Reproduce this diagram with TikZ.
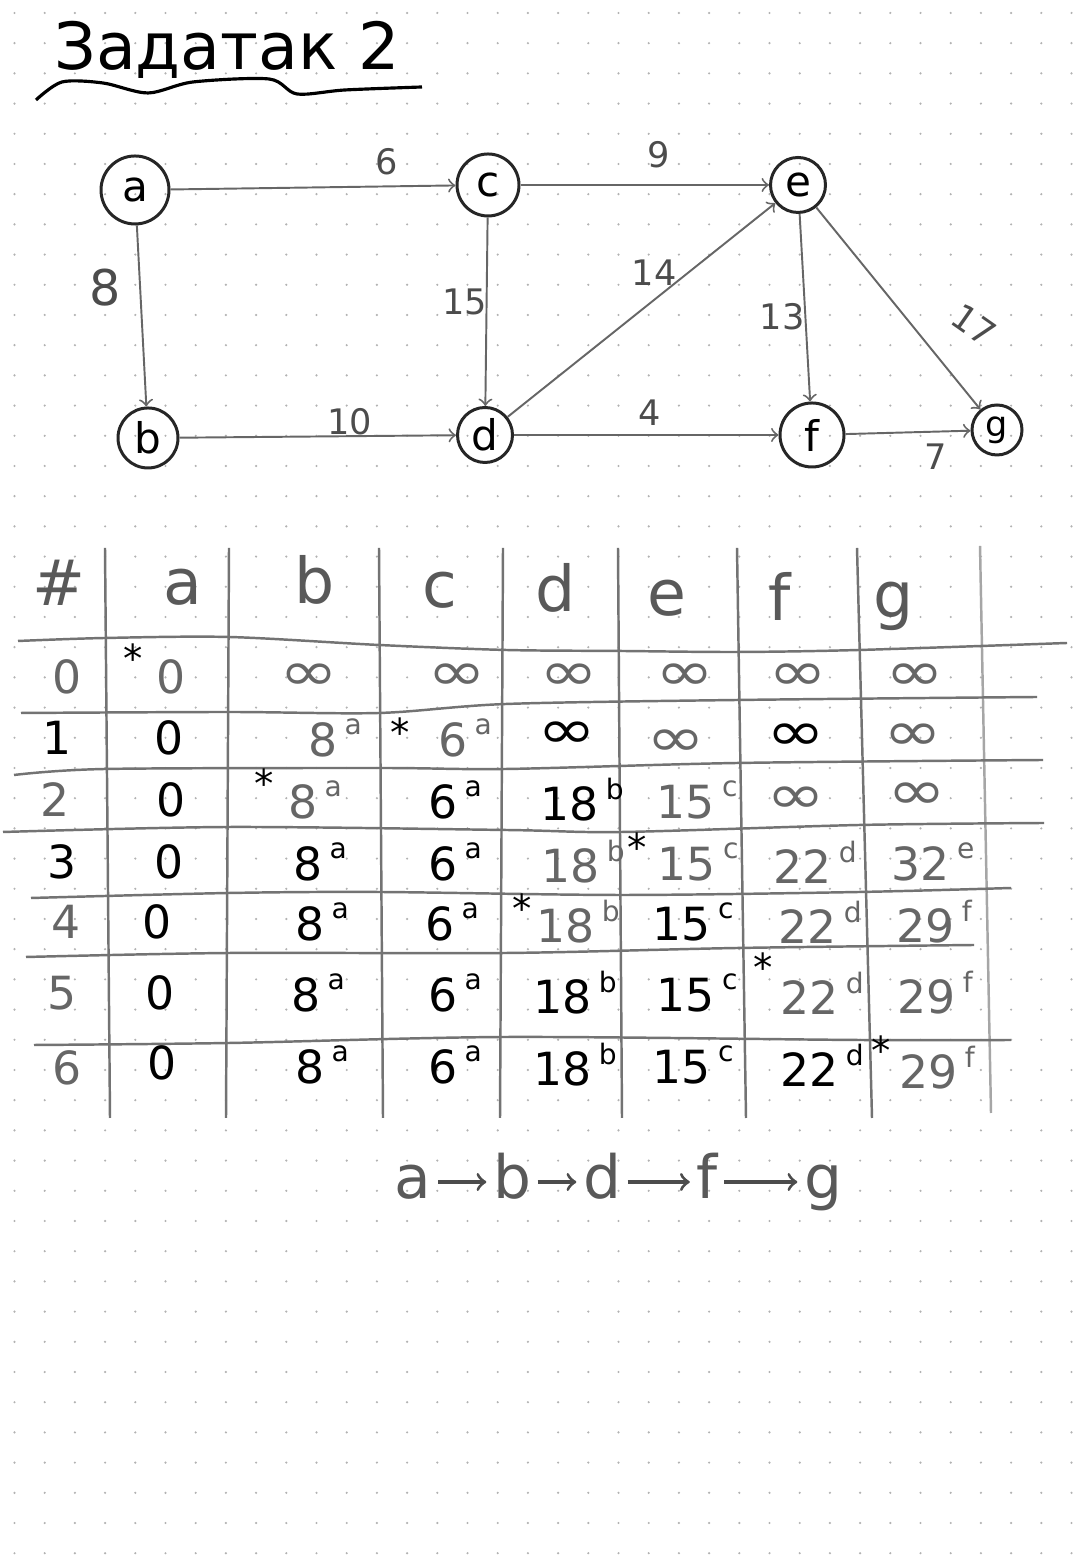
\documentclass[tikz,border=0pt]{standalone}
\usepackage{fontspec}
\setmainfont{DejaVu Sans}
\usetikzlibrary{calc}
\def\via#1#2{#1\,\raisebox{0.85ex}{\fontsize{8}{8}\selectfont #2}}
\def\inft{\scalebox{1.55}[1.2]{∞}}
\tikzset{
	vtx/.style={draw=black!85, line width=0.85pt, circle, inner sep=0pt, font=\fontsize{12}{14}\selectfont},
	link/.style={->, draw=black!60, line width=0.55pt},
	wt/.style={text=black!70, font=\fontsize{10}{12}\selectfont},
	rule/.style={draw=black!55, line width=0.7pt},
	head/.style={text=black!65, font=\fontsize{18}{20}\selectfont},
	pen/.style={text=black, font=\fontsize{13}{15}\selectfont},
	pencil/.style={text=black!60, font=\fontsize{13}{15}\selectfont},
	star/.style={text=black, font=\fontsize{11}{12}\selectfont},
	hop/.style={text=black!65, font=\fontsize{17}{19}\selectfont, text height=0.33cm, text depth=0pt, inner sep=0.06cm}
}

\begin{document}
\begin{tikzpicture}
		%%%%% PAPER %%%%%
		\fill[white] (0,0) rectangle (10.8,15.68);
		\useasboundingbox (0,0) rectangle (10.8,15.68);
		\foreach \i in {0,...,35}
			\foreach \j in {0,...,51}
				\fill[black!30] ({0.145+0.302*\i},{15.55-0.302*\j}) circle (0.012);
		
		%%%%% TITLE %%%%%
		\node[anchor=base west, font=\fontsize{18.5}{21}\selectfont] (title) at (0.42,14.98) {Задатак 2};
		\draw[line width=0.9pt] plot[smooth] coordinates {(0.36,14.68) (0.62,14.86) (1.03,14.85) (1.48,14.75) (1.93,14.86) (2.69,14.89) (2.97,14.74) (3.45,14.78) (4.22,14.81)};
		
		%%%%% GRAPH %%%%%
		\node[vtx, minimum size=0.68cm] (a) at (1.35,13.78) {a};
		\node[vtx, minimum size=0.62cm] (c) at (4.88,13.83) {c};
		\node[vtx, minimum size=0.55cm] (e) at (7.98,13.83) {e};
		\node[vtx, minimum size=0.60cm] (b) at (1.48,11.30) {b};
		\node[vtx, minimum size=0.55cm] (d) at (4.85,11.33) {d};
		\node[vtx, minimum size=0.64cm] (f) at (8.12,11.33) {f};
		\node[vtx, minimum size=0.50cm, font=\fontsize{10}{12}\selectfont] (g) at (9.97,11.38) {g};
		
		\draw[link] (a) -- (c);
		\draw[link] (a) -- (b);
		\draw[link] (c) -- (e);
		\draw[link] (c) -- (d);
		\draw[link] (b) -- (d);
		\draw[link] (d) -- (e);
		\draw[link] (d) -- (f);
		\draw[link] (e) -- (f);
		\draw[link] (e) -- (g);
		\draw[link] (f) -- (g);
		
		\node[wt] (w-ac) at (3.87,14.06) {6};
		\node[wt] (w-ce) at (6.59,14.13) {9};
		\node[wt, font=\fontsize{14}{16}\selectfont] (w-ab) at (1.05,12.80) {8};
		\node[wt] (w-cd) at (4.65,12.66) {15};
		\node[wt] (w-de) at (6.54,12.95) {14};
		\node[wt] (w-ef) at (7.82,12.51) {13};
		\node[wt, rotate=-35] (w-eg) at (9.74,12.43) {17};
		\node[wt] (w-bd) at (3.50,11.46) {10};
		\node[wt] (w-df) at (6.50,11.55) {4};
		\node[wt] (w-fg) at (9.36,11.11) {7};
		
		%%%%% TABLE %%%%%
		\draw[rule] (1.05,10.20) -- (1.10,4.50);
		\draw[rule] (2.29,10.20) -- (2.26,4.50);
		\draw[rule] (3.79,10.20) -- (3.83,4.50);
		\draw[rule] (5.03,10.20) -- (5.00,4.50);
		\draw[rule] (6.18,10.20) -- (6.22,4.50);
		\draw[rule] (7.37,10.20) -- (7.46,4.50);
		\draw[rule] (8.57,10.20) -- (8.72,4.50);
		\draw[rule, draw=black!35] (9.80,10.22) -- (9.91,4.55);
		
		\draw[rule] plot[smooth] coordinates {(0.18,9.27) (1.05,9.30) (2.29,9.31) (3.79,9.23) (5.06,9.18) (6.22,9.17) (7.37,9.16) (8.59,9.18) (10.67,9.25)};
		\draw[rule] plot[smooth] coordinates {(0.21,8.55) (2.29,8.56) (3.79,8.55) (5.06,8.64) (7.37,8.68) (10.37,8.71)};
		\draw[rule] plot[smooth] coordinates {(0.14,7.93) (1.05,7.99) (3.79,8.00) (5.06,7.99) (7.37,8.05) (10.43,8.08)};
		\draw[rule] plot[smooth] coordinates {(0.03,7.36) (2.29,7.41) (5.06,7.38) (6.22,7.36) (8.59,7.43) (10.44,7.45)};
		\draw[rule] plot[smooth] coordinates {(0.31,6.70) (2.29,6.75) (3.79,6.76) (6.22,6.73) (8.59,6.76) (10.11,6.80)};
		\draw[rule] plot[smooth] coordinates {(0.26,6.11) (2.29,6.15) (5.06,6.15) (7.37,6.20) (9.74,6.23)};
		\draw[rule] plot[smooth] coordinates {(0.34,5.23) (2.29,5.25) (5.06,5.31) (8.59,5.28) (10.11,5.28)};
		
		% header
		\node[head] (h-n) at (0.59,9.85) {\#};
		\node[head] (h-a) at (1.83,9.81) {a};
		\node[head] (h-b) at (3.15,9.88) {b};
		\node[head] (h-c) at (4.40,9.78) {c};
		\node[head] (h-d) at (5.56,9.80) {d};
		\node[head] (h-e) at (6.67,9.70) {e};
		\node[head] (h-f) at (7.80,9.72) {f};
		\node[head] (h-g) at (8.94,9.62) {g};
		
		% row 0
		\node[pencil] (r0-n) at (0.67,8.91) {0};
		\node[pencil] (r0-a) at (1.71,8.91) {0};
		\node[pencil] (r0-b) at (3.09,8.91) {\inft};
		\node[pencil] (r0-c) at (4.57,8.91) {\inft};
		\node[pencil] (r0-d) at (5.69,8.91) {\inft};
		\node[pencil] (r0-e) at (6.85,8.91) {\inft};
		\node[pencil] (r0-f) at (7.98,8.91) {\inft};
		\node[pencil] (r0-g) at (9.15,8.91) {\inft};
		
		% row 1
		\node[pen] (r1-n) at (0.57,8.30) {1};
		\node[pen] (r1-a) at (1.69,8.30) {0};
		\node[pencil] (r1-b) at (3.35,8.30) {\via{8}{a}};
		\node[pencil] (r1-c) at (4.65,8.30) {\via{6}{a}};
		\node[pen] (r1-d) at (5.67,8.33) {\inft};
		\node[pencil] (r1-e) at (6.76,8.25) {\inft};
		\node[pen] (r1-f) at (7.96,8.31) {\inft};
		\node[pencil] (r1-g) at (9.13,8.31) {\inft};
		
		% row 2
		\node[pencil] (r2-n) at (0.55,7.68) {2};
		\node[pen] (r2-a) at (1.71,7.68) {0};
		\node[pencil] (r2-b) at (3.15,7.68) {\via{8}{a}};
		\node[pen] (r2-c) at (4.55,7.68) {\via{6}{a}};
		\node[pen] (r2-d) at (5.82,7.68) {\via{18}{b}};
		\node[pencil] (r2-e) at (6.97,7.68) {\via{15}{c}};
		\node[pencil] (r2-f) at (7.96,7.68) {\inft};
		\node[pencil] (r2-g) at (9.17,7.72) {\inft};
		
		% row 3
		\node[pen] (r3-n) at (0.62,7.06) {3};
		\node[pen] (r3-a) at (1.69,7.06) {0};
		\node[pen] (r3-b) at (3.20,7.06) {\via{8}{a}};
		\node[pen] (r3-c) at (4.55,7.06) {\via{6}{a}};
		\node[pencil] (r3-d) at (5.83,7.06) {\via{18}{b}};
		\node[pencil] (r3-e) at (6.98,7.06) {\via{15}{c}};
		\node[pencil] (r3-f) at (8.15,7.06) {\via{22}{d}};
		\node[pencil] (r3-g) at (9.33,7.06) {\via{32}{e}};
		
		% row 4
		\node[pencil] (r4-n) at (0.66,6.46) {4};
		\node[pen] (r4-a) at (1.57,6.46) {0};
		\node[pen] (r4-b) at (3.22,6.46) {\via{8}{a}};
		\node[pen] (r4-c) at (4.52,6.46) {\via{6}{a}};
		\node[pencil] (r4-d) at (5.78,6.46) {\via{18}{b}};
		\node[pen] (r4-e) at (6.93,6.46) {\via{15}{c}};
		\node[pencil] (r4-f) at (8.20,6.46) {\via{22}{d}};
		\node[pencil] (r4-g) at (9.34,6.46) {\via{29}{f}};
		
		% row 5
		\node[pencil] (r5-n) at (0.62,5.75) {5};
		\node[pen] (r5-a) at (1.60,5.75) {0};
		\node[pen] (r5-b) at (3.18,5.75) {\via{8}{a}};
		\node[pen] (r5-c) at (4.55,5.75) {\via{6}{a}};
		\node[pen] (r5-d) at (5.75,5.75) {\via{18}{b}};
		\node[pen] (r5-e) at (6.97,5.75) {\via{15}{c}};
		\node[pencil] (r5-f) at (8.22,5.75) {\via{22}{d}};
		\node[pencil] (r5-g) at (9.35,5.75) {\via{29}{f}};
		
		% row 6
		\node[pencil] (r6-n) at (0.67,5.00) {6};
		\node[pen] (r6-a) at (1.62,5.05) {0};
		\node[pen] (r6-b) at (3.22,5.03) {\via{8}{a}};
		\node[pen] (r6-c) at (4.55,5.03) {\via{6}{a}};
		\node[pen] (r6-d) at (5.75,5.03) {\via{18}{b}};
		\node[pen] (r6-e) at (6.93,5.03) {\via{15}{c}};
		\node[pen] (r6-f) at (8.22,5.03) {\via{22}{d}};
		\node[pencil] (r6-g) at (9.37,5.00) {\via{29}{f}};
		
		% marks
		\node[star] (s0) at (1.33,9.10) {*};
		\node[star] (s1) at (4.00,8.36) {*};
		\node[star] (s2) at (2.64,7.85) {*};
		\node[star] (s3) at (6.37,7.21) {*};
		\node[star] (s4) at (5.22,6.60) {*};
		\node[star] (s5) at (7.63,6.01) {*};
		\node[star] (s6) at (8.81,5.18) {*};
		
		%%%%% PATH %%%%%
		\node[hop] (p-a) at (4.13,3.86) {a};
		\node[hop] (p-b) at (5.12,3.86) {b};
		\node[hop] (p-d) at (6.02,3.86) {d};
		\node[hop] (p-f) at (7.07,3.86) {f};
		\node[hop] (p-g) at (8.23,3.86) {g};
		\draw[->, black!70, line width=0.9pt] (p-a) -- (p-b);
		\draw[->, black!70, line width=0.9pt] (p-b) -- (p-d);
		\draw[->, black!70, line width=0.9pt] (p-d) -- (p-f);
		\draw[->, black!70, line width=0.9pt] (p-f) -- (p-g);
	\end{tikzpicture}
\end{document}
